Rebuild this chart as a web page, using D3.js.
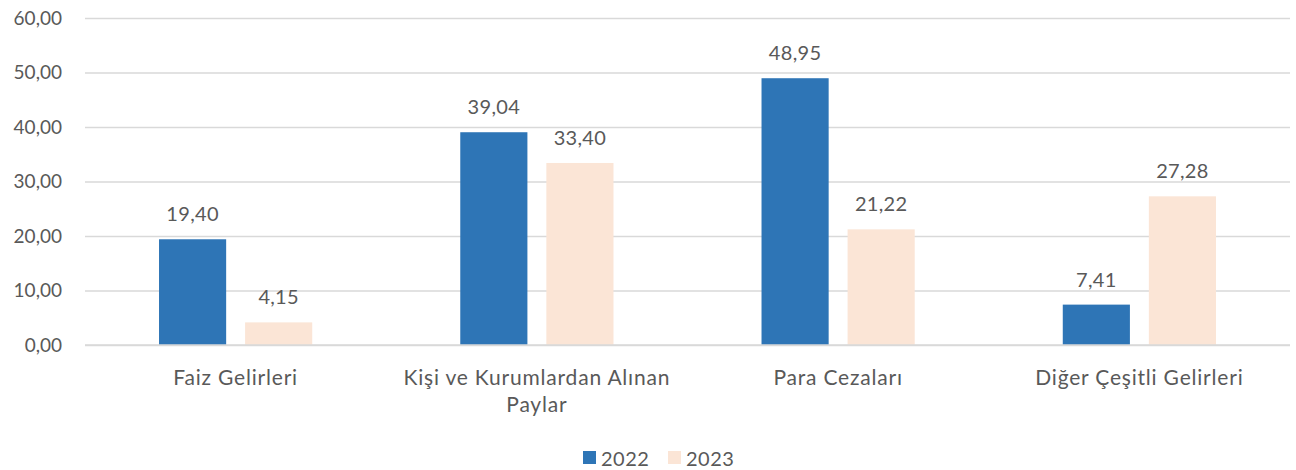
<!DOCTYPE html>
<html><head><meta charset="utf-8">
<script src="https://cdn.jsdelivr.net/npm/d3@7/dist/d3.min.js"></script>
<style>body{margin:0;background:#fff}svg{display:block}text{font-family:Lato,"Open Sans",sans-serif;fill:#595959}</style>
</head><body><svg id="c" width="1296" height="470"></svg>
<script>
const categories = ["Faiz Gelirleri", "Kişi ve Kurumlardan Alınan Paylar", "Para Cezaları", "Diğer Çeşitli Gelirleri"];
const seriesNames = ["2022", "2023"];
const values2022 = [19.40, 39.04, 48.95, 7.41];
const values2023 = [4.15, 33.40, 21.22, 27.28];
const yTicks = [0, 10, 20, 30, 40, 50, 60];
const colors = ["#2E75B6", "#FBE5D6"];

(function () {
const svg = d3.select("#c");
const mLeft = 85, mRight = 1290, mTop = 18, mBottom = 345;
const fmt = v => d3.format(".2f")(v).replace(".", ",");

const x0 = d3.scaleBand().domain(categories).range([mLeft, mRight]).padding(0);
const x1 = d3.scaleBand().domain(seriesNames).range([0, x0.bandwidth()]).paddingInner(0.22).paddingOuter(0.86);
const y = d3.scaleLinear().domain([0, 60]).range([mBottom, mTop]);

const yAxis = d3.axisLeft(y).tickValues(yTicks).tickSize(-(mRight - mLeft)).tickFormat(fmt).tickPadding(23);
const ga = svg.append("g").attr("transform", `translate(${mLeft},0)`).call(yAxis);
ga.select(".domain").remove();
ga.selectAll(".tick line").attr("stroke", "#D9D9D9").attr("stroke-width", 1.3);
ga.selectAll(".tick text").style("font-size", "19px").style("fill", "#595959").style("font-family", "Lato").attr("dy", "0.34em");

const data = categories.map((c, i) => ({cat: c, vals: [values2022[i], values2023[i]]}));
const groups = svg.selectAll(".grp").data(data).join("g").attr("transform", d => `translate(${x0(d.cat)},0)`);
groups.selectAll("rect").data(d => d.vals.map((v, j) => ({s: seriesNames[j], v, j})))
  .join("rect")
  .attr("x", d => x1(d.s)).attr("width", x1.bandwidth())
  .attr("y", d => y(d.v)).attr("height", d => y(0) - y(d.v))
  .attr("fill", d => colors[d.j]);
groups.selectAll("text.lbl").data(d => d.vals.map((v, j) => ({s: seriesNames[j], v, j})))
  .join("text").attr("class", "lbl")
  .attr("x", d => x1(d.s) + x1.bandwidth() / 2).attr("y", d => y(d.v) - 18)
  .attr("text-anchor", "middle").style("font-size", "20px").style("letter-spacing", "0.3px").text(d => fmt(d.v));

const xAxis = d3.axisBottom(x0).tickSize(0).tickPadding(0);
const gx = svg.append("g").attr("transform", `translate(0,${mBottom})`).call(xAxis);
gx.select(".domain").remove();
gx.selectAll(".tick text").style("font-size", "21px").style("letter-spacing", "0.8px").style("fill", "#595959").style("font-family", "Lato").each(function(d) {
  const t = d3.select(this);
  const words = d.split(" ");
  const lines = [];
  let line = [];
  t.text(null);
  const tmp = t.append("tspan");
  words.forEach(w => {
    line.push(w);
    tmp.text(line.join(" "));
    if (tmp.node().getComputedTextLength() > 290 && line.length > 1) {
      line.pop(); lines.push(line.join(" ")); line = [w];
    }
  });
  lines.push(line.join(" "));
  tmp.remove();
  lines.forEach((l, i) => t.append("tspan").attr("x", 0).attr("y", 40 + i * 27).attr("dy", 0).text(l));
});
svg.append("line").attr("x1", mLeft).attr("x2", mRight).attr("y1", mBottom).attr("y2", mBottom).attr("stroke", "#D9D9D9").attr("stroke-width", 1.3);

const legend = svg.append("g");
const lx = [583, 668];
seriesNames.forEach((s, i) => {
  legend.append("rect").attr("x", lx[i]).attr("y", 451).attr("width", 13).attr("height", 13).attr("fill", colors[i]);
  legend.append("text").attr("x", lx[i] + 18).attr("y", 466).style("font-size", "20px").style("letter-spacing", "0.5px").text(s);
});
})();
</script></body></html>
